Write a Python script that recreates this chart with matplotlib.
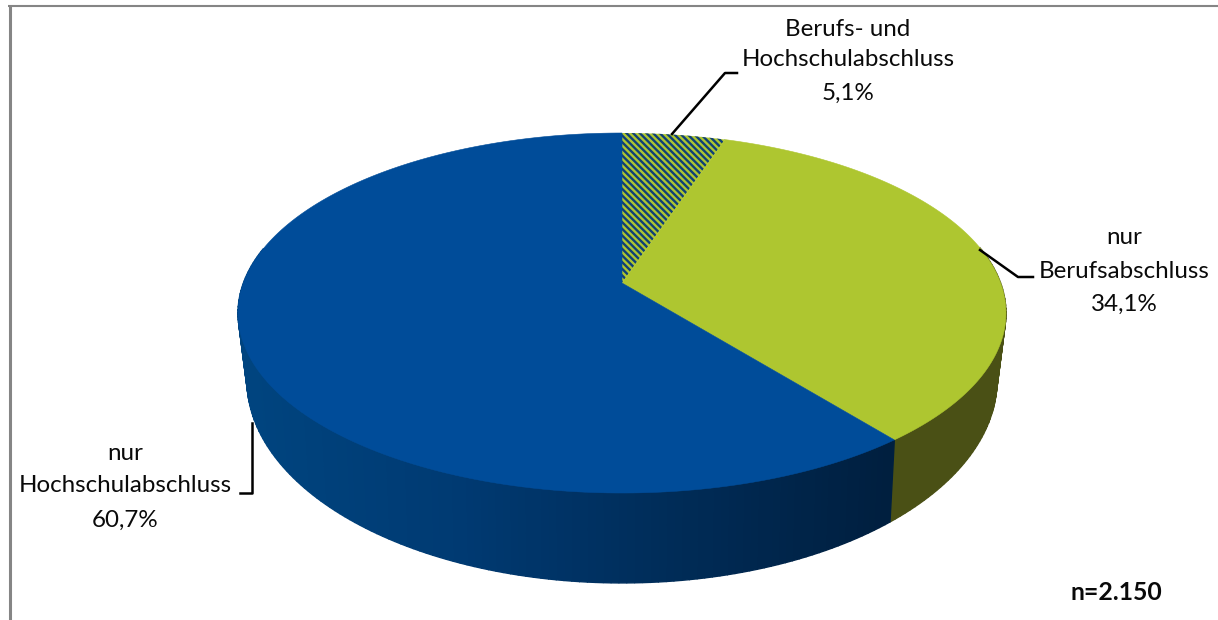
import numpy as np
import matplotlib
matplotlib.use("Agg")
import matplotlib.pyplot as plt
from matplotlib.colors import LinearSegmentedColormap
from matplotlib.patches import Polygon

categories = ["Berufs- und\nHochschulabschluss", "nur\nBerufsabschluss", "nur\nHochschulabschluss"]
shares = [5.1, 34.1, 60.7]
value_labels = ["5,1%", "34,1%", "60,7%"]
sample_note = "n=2.150"

BLUE = "#004C99"
GREEN = "#AEC630"
GREEN_SIDE = "#4A5015"
HATCH_BLUE = "#0F3F78"
side_blue = LinearSegmentedColormap.from_list("side", ["#00447F", "#003A72", "#002C58", "#001F3F"])

plt.rcParams["font.family"] = ["Lato", "DejaVu Sans"]
plt.rcParams["hatch.linewidth"] = 1.7

fig = plt.figure(figsize=(12.18, 6.2), dpi=100)
ax = fig.add_axes([0, 0, 1, 1])
ax.set_xlim(0, 1218)
ax.set_ylim(620, 0)
ax.axis("off")


def top_face(theta):
    u, v = np.sin(theta), np.cos(theta)
    d = 1 + v / 6
    return np.column_stack([622 + 378.6 * u / d, -767 + 1050 / d])


def bottom_face(theta):
    u, v = np.sin(theta), np.cos(theta)
    d = 1 + 0.177 * v
    return np.column_stack([622 + 0.975 * 378.6 * u / d, -767 + 1111 / d])


edges = 2 * np.pi * np.concatenate([[0], np.cumsum(shares)]) / np.sum(shares)
APEX = (622, 283)

# side wall, strip by strip; only the front part can be seen
for i, (a, b) in enumerate(zip(edges[:-1], edges[1:])):
    n = max(int((b - a) / np.radians(1.0)), 2)
    t = np.linspace(a, b, n + 1)
    T, B = top_face(t), bottom_face(t)
    for k in range(n):
        if np.cos(t[k]) > 0.2 and np.cos(t[k + 1]) > 0.2:
            continue
        quad = [T[k], T[k + 1], B[k + 1], B[k]]
        if i == 2:
            f = np.clip((T[k, 0] - 248) / (891 - 248), 0, 1)
            col = side_blue(f)
        else:
            col = GREEN_SIDE
        ax.add_patch(Polygon(quad, closed=True, facecolor=col, edgecolor=col, lw=1.0, zorder=2))

# top face
for i, (a, b) in enumerate(zip(edges[:-1], edges[1:])):
    t = np.linspace(a, b, 200)
    pts = np.vstack([[APEX], top_face(t)])
    if i == 0:
        ax.add_patch(Polygon(pts, closed=True, facecolor=GREEN, edgecolor=HATCH_BLUE, lw=0,
                             hatch="\\\\\\\\\\", zorder=3))
    else:
        col = GREEN if i == 1 else BLUE
        ax.add_patch(Polygon(pts, closed=True, facecolor=col, edgecolor=col, lw=0.4, zorder=3))

# chart frame
ax.plot([9.5, 9.5], [620, 5], color="#858585", lw=2.2, solid_capstyle="butt", zorder=1)
ax.plot([8, 1218], [6, 6], color="#858585", lw=1.5, solid_capstyle="butt", zorder=1)

# leader lines
ax.plot([672, 725, 737], [134, 73, 73], color="black", lw=1.8, zorder=4)
ax.plot([980, 1018, 1033], [250, 277, 277], color="black", lw=1.8, zorder=4)
ax.plot([252, 252, 240], [423, 493, 493], color="black", lw=1.8, zorder=4)

# labels
FS = 17.4
label_x = [848, 1124, 125]
label_y = [[29, 60], [238, 271], [454, 486]]
value_y = [93, 304, 520]
for name, val, x, ys, vy in zip(categories, value_labels, label_x, label_y, value_y):
    for line, y in zip(name.split("\n"), ys):
        ax.text(x, y, line, ha="center", va="center", fontsize=FS, color="#0A0A0A", zorder=5)
    ax.text(x, vy, val, ha="center", va="center", fontsize=FS, color="#0A0A0A", zorder=5)
ax.text(1116, 593, sample_note, ha="center", va="center", fontsize=FS + 0.4, fontweight="bold",
        color="#0A0A0A", zorder=5)

fig.savefig("out.png", dpi=100)
